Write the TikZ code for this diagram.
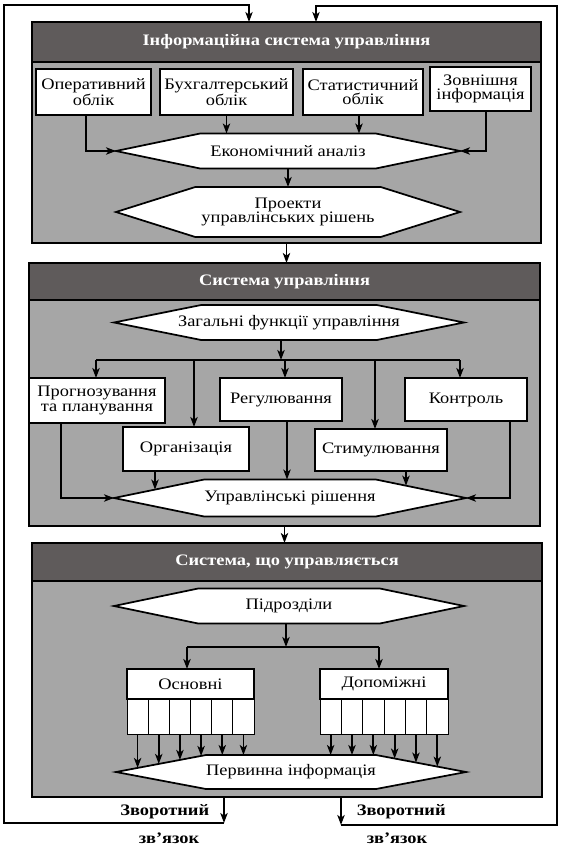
\documentclass[tikz,border=0pt]{standalone}
\usepackage{fontspec}
\setmainfont{Liberation Serif}[FakeStretch=1.15]
\usetikzlibrary{arrows.meta,positioning,calc,shapes.symbols,intersections}
\newcommand{\px}{*0.75pt}
\definecolor{headgray}{RGB}{95,91,91}
\definecolor{bodygray}{RGB}{166,166,166}
\tikzset{
    >={Stealth[length=7.5pt,width=5.5pt,inset=2pt]},
    every picture/.style={line width=1.3pt},
    head/.style={draw,fill=headgray,text=white,line width=2pt,font=\bfseries\fontsize{12}{12}\selectfont,
        minimum height=40\px,minimum width=509\px,inner sep=0pt,outer sep=0pt},
    body/.style={draw,fill=bodygray,line width=2pt,minimum width=509\px,inner sep=0pt,outer sep=0pt},
    blok/.style={draw,fill=white,align=center,inner sep=0pt,outer sep=0pt,font=\fontsize{12}{11}\selectfont},
    hexa/.style={shape=signal,signal to=west and east,draw,fill=white,inner sep=0pt,outer sep=0pt},
    hextext/.style={align=center,inner sep=0pt,font=\fontsize{12}{11}\selectfont},
    cell/.style={draw,fill=white,line width=0.7pt,minimum width=21.17\px,minimum height=35\px,inner sep=0pt,outer sep=0pt},
    fbtext/.style={font=\bfseries\fontsize{12}{12}\selectfont,inner sep=0pt}
}

\begin{document}
\begin{tikzpicture}[x=0.75pt,y=-0.75pt]
    \useasboundingbox (0,0) rectangle (563,854);

    % Information system of management
    \node[head] (head1) at (286.5,42) {Інформаційна система управління};
    \node[body,minimum height=181\px,anchor=north] (body1) at (head1.south) {};
    \node[blok,minimum width=115\px,minimum height=46\px] (op) at (93.5,92) {Оперативний\\облік};
    \node[blok,minimum width=133\px,minimum height=46\px] (buh) at (226.5,92) {Бухгалтерський\\облік};
    \node[blok,minimum width=120\px,minimum height=46\px] (stat) at (363,92) {Статистичний\\облік};
    \node[blok,minimum width=101\px,minimum height=44\px] (zovn) at (480.5,89) {Зовнішня\\інформація};
    \node[hexa,minimum width=344\px,minimum height=35\px,signal pointer angle=23.5] (ea) at (288,151) {};
    \node[hextext] (eaT) at (ea) {Економічний аналіз};
    \node[hexa,minimum width=344\px,minimum height=50\px,signal pointer angle=35] (pr) at (288,212) {};
    \node[hextext] (prT) at (pr) {Проекти\\управлінських рішень};

    \draw[->] ([xshift=-7.5\px]op.south) |- (ea.west);
    \draw[->] (buh.south) -- (buh.south |- ea.north);
    \draw[->] ([xshift=-4\px]stat.south) -- ([xshift=-4\px]stat.south |- ea.north);
    \draw[->] ([xshift=5.5\px]zovn.south) |- (ea.east);
    \draw[->] (ea.south) -- (pr.north);

    % Management system
    \node[head,minimum height=37\px,minimum width=511\px] (head2) at (284.5,281.5) {Система управління};
    \node[body,minimum height=226\px,minimum width=511\px,anchor=north] (body2) at (head2.south) {};
    \draw[->] (body1.south) -- (body1.south |- head2.north);
    \node[hexa,minimum width=350\px,minimum height=35\px,signal pointer angle=22.7] (zf) at (289,322.5) {};
    \node[hextext] (zfT) at (zf) {Загальні функції управління};
    \node[blok,minimum width=136\px,minimum height=45\px] (prog) at (97,400.5) {Прогнозування\\та планування};
    \node[blok,minimum width=122\px,minimum height=43\px] (reg) at (281,399.5) {Регулювання};
    \node[blok,minimum width=122\px,minimum height=43\px] (kontr) at (466,399.5) {Контроль};
    \node[blok,minimum width=126\px,minimum height=44\px] (org) at (186,449) {Організація};
    \node[blok,minimum width=132\px,minimum height=42\px] (stym) at (381,450) {Стимулювання};
    \node[hexa,minimum width=352\px,minimum height=37\px,signal pointer angle=23.2,name path=urP] (ur) at (290,498) {};
    \node[hextext] (urT) at (ur) {Управлінські рішення};

    \coordinate (brL) at (96,360);
    \coordinate (brO) at (194,360);
    \coordinate (brR) at (285,360);
    \coordinate (brS) at (375,360);
    \coordinate (brK) at (460,360);
    \draw[->] ([xshift=-8\px]zf.south) -- ([xshift=-8\px]zf.south |- brL);
    \draw (brL) -- (brK);
    \draw[->] (brL) -- (brL |- prog.north);
    \draw[->] (brO) -- (brO |- org.north);
    \draw[->] (brR) -- (brR |- reg.north);
    \draw[->] (brS) -- (brS |- stym.north);
    \draw[->] (brK) -- (brK |- kontr.north);

    \draw[->] ([xshift=-36\px]prog.south) |- (ur.west);
    \path[name path=orgV] ([xshift=-31\px]org.south) -- ++(0,60);
    \draw[->,name intersections={of=orgV and urP,sort by=orgV}] ([xshift=-31\px]org.south) -- (intersection-1);
    \draw[->] ([xshift=6\px]reg.south) -- ([xshift=6\px]reg.south |- ur.north);
    \path[name path=stymV] ([xshift=25\px]stym.south) -- ++(0,60);
    \draw[->,name intersections={of=stymV and urP,sort by=stymV}] ([xshift=25\px]stym.south) -- (intersection-1);
    \draw[->] ([xshift=44\px]kontr.south) |- (ur.east);

    % Managed system
    \node[head,minimum height=38\px,minimum width=510\px] (head3) at (287,562) {Система, що управляється};
    \node[body,minimum height=216\px,minimum width=510\px,anchor=north] (body3) at (head3.south) {};
    \draw[->] (body2.south) -- (body2.south |- head3.north);
    \node[hexa,minimum width=350\px,minimum height=35\px,signal pointer angle=23.5] (pd) at (289,606) {};
    \node[hextext] (pdT) at (pd) {Підрозділи};
    \node[blok,minimum width=127\px,minimum height=30\px] (osn) at (190.5,684) {Основні};
    \node[blok,minimum width=128\px,minimum height=30\px] (dop) at (384,684) {Допоміжні};
    \node[hexa,minimum width=350\px,minimum height=34\px,signal pointer angle=21.4,name path=piP] (pi) at (291,772) {};
    \node[hextext] (piT) at (pi) {Первинна інформація};

    \coordinate (bsL) at (187,647);
    \coordinate (bsR) at (379,647);
    \draw[->] ([xshift=-3\px]pd.south) -- ([xshift=-3\px]pd.south |- bsL);
    \draw (bsL) -- (bsR);
    \draw[->] (bsL) -- (bsL |- osn.north);
    \draw[->] (bsR) -- (bsR |- dop.north);

    \foreach \i in {1,...,6} {
        \node[cell,anchor=north west] (o\i) at ([xshift={(\i-1)*21.17\px}]osn.south west) {};
        \node[cell,minimum width=21.33\px,anchor=north west] (d\i) at ([xshift={(\i-1)*21.33\px}]dop.south west) {};
        \path[name path=vo] (o\i.south) -- ++(0,60);
        \draw[->,name intersections={of=vo and piP,sort by=vo}] (o\i.south) -- (intersection-1);
        \path[name path=vd] (d\i.south) -- ++(0,60);
        \draw[->,name intersections={of=vd and piP,sort by=vd}] (d\i.south) -- (intersection-1);
    }

    % Feedback
    \coordinate (fbL) at (224,823);
    \coordinate (lpL1) at (4,823);
    \coordinate (lpL2) at (4,5);
    \coordinate (inL) at (249,22);
    \coordinate (fbR) at (341,825);
    \coordinate (lpR1) at (557,825);
    \coordinate (lpR2) at (557,6);
    \coordinate (inR) at (316,22);
    \draw[->] (body3.south -| fbL) -- (fbL);
    \draw[->] (body3.south -| fbR) -- (fbR);
    \draw[->,line width=1pt] (fbL) -- (lpL1) -- (lpL2) -| (inL);
    \draw[->,line width=1pt] (fbR) -- (lpR1) -- (lpR2) -| (inR);

    \node[fbtext,anchor=east] (zv1) at (210,812) {Зворотний};
    \node[fbtext] (zz1) at (169,838) {зв’язок};
    \node[fbtext,anchor=west] (zv2) at (356,812) {Зворотний};
    \node[fbtext] (zz2) at (397,838) {зв’язок};
\end{tikzpicture}
\end{document}
